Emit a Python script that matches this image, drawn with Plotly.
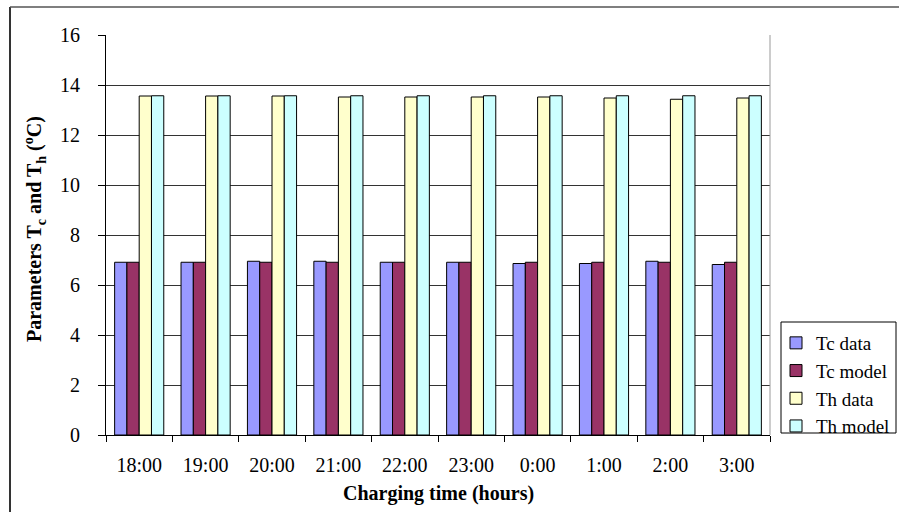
import plotly.graph_objects as go

# Charging hours (categories)
hours = ["18:00", "19:00", "20:00", "21:00", "22:00", "23:00", "0:00", "1:00", "2:00", "3:00"]

# Cold-side temperature Tc (°C)
tc_data = [6.91, 6.91, 6.95, 6.95, 6.91, 6.91, 6.86, 6.86, 6.95, 6.82]
tc_model = [6.91, 6.91, 6.91, 6.91, 6.91, 6.91, 6.91, 6.91, 6.91, 6.91]

# Hot-side temperature Th (°C)
th_data = [13.56, 13.56, 13.56, 13.52, 13.52, 13.52, 13.52, 13.48, 13.43, 13.48]
th_model = [13.57, 13.57, 13.57, 13.57, 13.57, 13.57, 13.57, 13.57, 13.57, 13.57]

y_ticks = [0, 2, 4, 6, 8, 10, 12, 14, 16]

W, H = 899, 512
L, R, T, B = 106, 770, 35, 435  # plot area in pixels

FONT = "Liberation Serif, Times New Roman, serif"

series = [
    ("Tc data", tc_data, "#9999FF"),
    ("Tc model", tc_model, "#993366"),
    ("Th data", th_data, "#FFFFCC"),
    ("Th model", th_model, "#CCFFFF"),
]

fig = go.Figure()
for name, vals, color in series:
    fig.add_trace(go.Bar(
        x=hours, y=vals, name=name,
        marker=dict(color=color, line=dict(color="black", width=1)),
    ))

def px_x(p):
    return (p - L) / (R - L)

def px_y(p):
    return (B - p) / (B - T)

fig.update_layout(
    width=W, height=H,
    autosize=False,
    margin=dict(l=L, r=W - R, t=T, b=H - B, pad=0, autoexpand=False),
    paper_bgcolor="white",
    plot_bgcolor="white",
    barmode="group",
    bargap=0.26,
    bargroupgap=0,
    font=dict(family=FONT, size=20, color="black"),
    showlegend=True,
    legend=dict(
        x=px_x(776), y=px_y(324), xanchor="left", yanchor="top",
        borderwidth=0, bgcolor="rgba(0,0,0,0)",
        font=dict(family=FONT, size=19, color="black"),
        tracegroupgap=0, itemwidth=30,
    ),
    xaxis=dict(
        type="category",
        showline=True, linecolor="black", linewidth=1,
        ticks="outside", tickson="boundaries", ticklen=6, tickcolor="black",
        showgrid=False,
        ticklabelstandoff=12,
        tickfont=dict(family=FONT, size=20),
    ),
    yaxis=dict(
        range=[0, 16],
        tickvals=y_ticks,
        showline=True, linecolor="black", linewidth=1,
        ticks="outside", ticklen=7, tickcolor="black",
        showgrid=True, gridcolor="#333333", gridwidth=1,
        zeroline=False,
        ticklabelstandoff=14,
        tickfont=dict(family=FONT, size=20),
    ),
    annotations=[
        dict(
            text="<b>Charging time (hours)</b>",
            xref="paper", yref="paper",
            x=px_x(438), y=px_y(493),
            xanchor="center", yanchor="middle",
            showarrow=False, font=dict(family=FONT, size=20),
        ),
        dict(
            text="<b>Parameters T<sub>c</sub> and T<sub>h</sub> (<sup>o</sup>C)</b>",
            xref="paper", yref="paper",
            x=px_x(35), y=px_y(229),
            xanchor="center", yanchor="middle",
            textangle=-90,
            showarrow=False, font=dict(family=FONT, size=20),
        ),
    ],
    shapes=[
        # right edge of plot area
        dict(type="line", xref="paper", yref="paper",
             x0=1, x1=1, y0=0, y1=1, line=dict(color="#999999", width=1)),
        # legend frame
        dict(type="rect", xref="paper", yref="paper",
             x0=px_x(781), x1=px_x(896), y0=px_y(322), y1=px_y(433),
             line=dict(color="black", width=1), fillcolor="rgba(0,0,0,0)"),
        # outer chart frame (left and top edges)
        dict(type="line", xref="paper", yref="paper",
             x0=px_x(10), x1=px_x(10), y0=px_y(7), y1=px_y(512),
             line=dict(color="#333333", width=2)),
        dict(type="line", xref="paper", yref="paper",
             x0=px_x(10), x1=px_x(899), y0=px_y(7), y1=px_y(7),
             line=dict(color="#555555", width=1.5)),
    ],
)

page_css = (
    "document.body.style.margin='0';"
    "document.body.style.padding='0';"
    "document.body.style.overflow='hidden';"
    "document.documentElement.style.overflow='hidden';"
)

fig.write_html("out.html", post_script=page_css, config={"responsive": False})
